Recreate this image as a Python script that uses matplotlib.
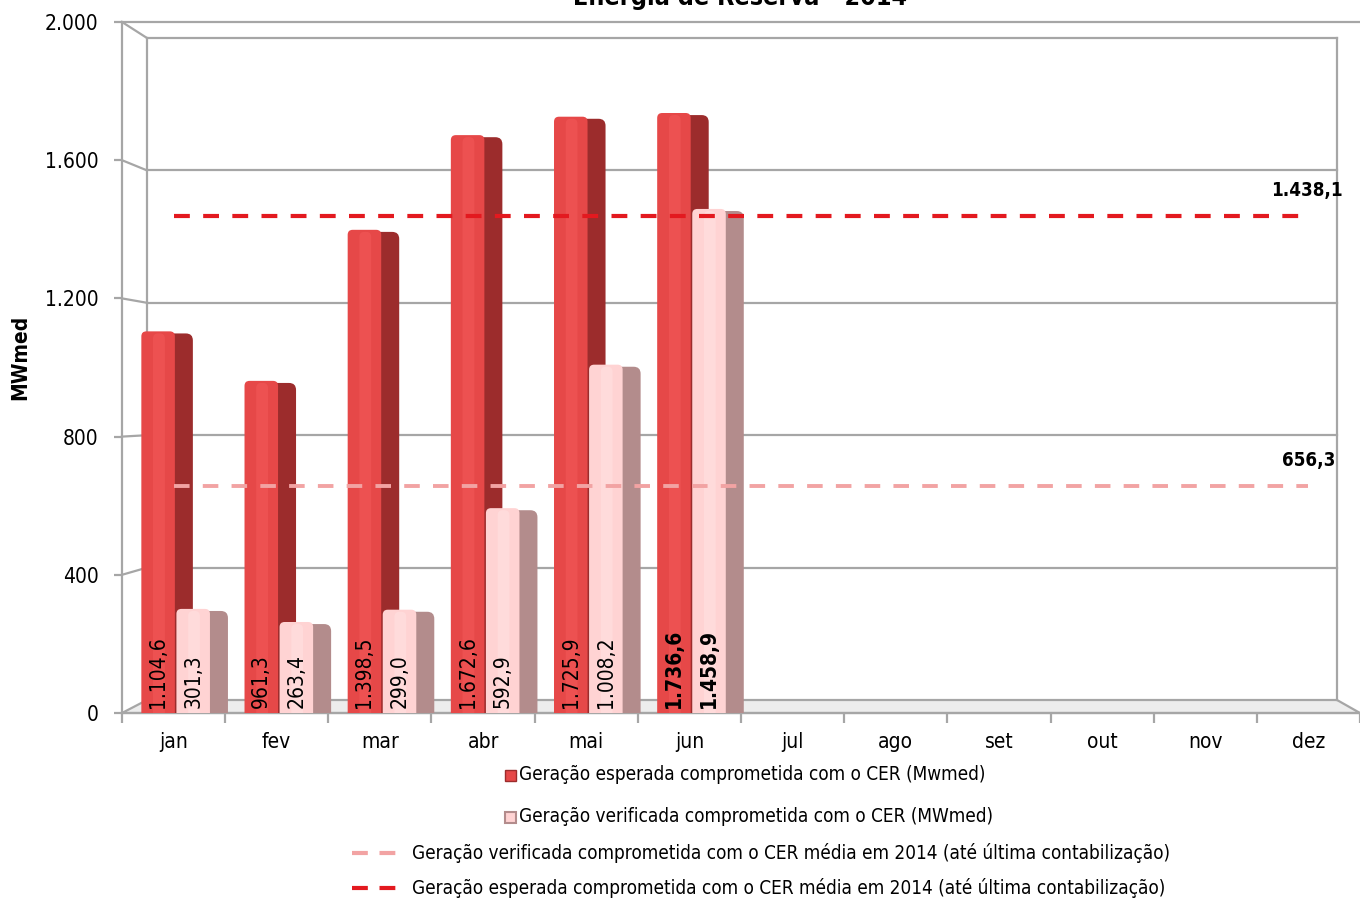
import matplotlib
matplotlib.use("Agg")
import matplotlib.pyplot as plt
from matplotlib.patches import FancyBboxPatch, Polygon, Rectangle
from matplotlib.lines import Line2D
import numpy as np

plt.rcParams['font.family'] = ['DejaVu Sans']
plt.rcParams['font.stretch'] = 'condensed'

# ---------------- data ----------------
months = ['jan', 'fev', 'mar', 'abr', 'mai', 'jun', 'jul', 'ago', 'set', 'out', 'nov', 'dez']
esperada = [1104.6, 961.3, 1398.5, 1672.6, 1725.9, 1736.6]
verificada = [301.3, 263.4, 299.0, 592.9, 1008.2, 1458.9]
media_esperada = 1438.1
media_verificada = 656.3
yticks = [0, 400, 800, 1200, 1600, 2000]
title = 'Energia de Reserva - 2014'
ylabel = 'MWmed'
legend_labels = [
    'Geração esperada comprometida com o CER (Mwmed)',
    'Geração verificada comprometida com o CER (MWmed)',
    'Geração verificada comprometida com o CER média em 2014 (até última contabilização)',
    'Geração esperada comprometida com o CER média em 2014 (até última contabilização)',
]

# ---------------- style ----------------
RED_FRONT = '#E64848'
RED_HI = '#F45A5A'
RED_SIDE = '#9C2C2C'
PINK_FRONT = '#FFD3D3'
PINK_HI = '#FFE2E2'
PINK_SIDE = '#B38C8C'
LINE_RED = '#E3191F'
LINE_PINK = '#F2A3A3'
GRID = '#A6A6A6'
FS = 15
FS_LEG = 13.6

W, H = 1360, 900
fig = plt.figure(figsize=(W / 100, H / 100), dpi=100)
L, R, T, B = 122, 1360, 22, 713          # front plot frame (pixels)
ax = fig.add_axes([L / W, 1 - B / H, (R - L) / W, (B - T) / H])
ax.set_xlim(-0.5, 11.5)
ax.set_ylim(0, 2000)
ax.patch.set_alpha(0)
for s in ax.spines.values():
    s.set_visible(False)

ppx = (R - L) / 12.0                     # pixels per category


def X(px):
    return (px - L) / ppx - 0.5


def Y(py):
    return (B - py) / (B - T) * 2000.0


# back wall geometry (pixels)
BX0, BX1, BYT, BYB = 147, 1337, 38, 700


def back_py(v):
    return BYB - v / 2000.0 * (BYB - BYT)


kw = dict(color=GRID, lw=1.6, clip_on=False, zorder=0.5)
floor = Polygon([(X(L), Y(B)), (X(BX0), Y(BYB)), (X(BX1), Y(BYB)), (X(R), Y(B))],
                closed=True, facecolor='#EDEDED', edgecolor=GRID, lw=1.6,
                clip_on=False, zorder=0.4)
ax.add_patch(floor)
for v in yticks[1:]:
    ax.plot([X(BX0), X(BX1)], [Y(back_py(v))] * 2, **kw)
    ax.plot([X(L), X(BX0)], [v, Y(back_py(v))], **kw)
ax.plot([X(BX0), X(BX0)], [Y(BYB), Y(BYT)], **kw)
ax.plot([X(BX1), X(BX1)], [Y(BYB), Y(BYT)], **kw)
ax.plot([X(L), X(L)], [0, 2000], **kw)
ax.plot([X(L), X(R)], [2000, 2000], **kw)
ax.plot([X(L), X(R)], [0, 0], **kw)

# ---------------- bars ----------------
w = 0.325
off_d, off_v = -0.15, 0.19
depth = 18 / ppx
ya = (2000.0 / (B - T)) * ppx
r = 5 / ppx


def bar3d(xc, h, front, hi, side, z):
    x0 = xc - w / 2
    sp = FancyBboxPatch((x0 + w * 0.3, -50), w * 0.7 + depth, h + 50 - 6,
                        boxstyle=f"round,pad=0,rounding_size={r * 1.4}",
                        mutation_aspect=ya, facecolor=side, edgecolor='none',
                        zorder=z)
    ax.add_patch(sp)
    fp = FancyBboxPatch((x0, -50), w, h + 50,
                        boxstyle=f"round,pad=0,rounding_size={r}",
                        mutation_aspect=ya, facecolor=front, edgecolor='none',
                        zorder=z + 0.1)
    ax.add_patch(fp)
    hp = FancyBboxPatch((x0 + w * 0.35, -50), w * 0.35, h + 50 - 6,
                        boxstyle=f"round,pad=0,rounding_size={r}",
                        mutation_aspect=ya, facecolor=hi, edgecolor='none',
                        alpha=0.55, zorder=z + 0.15)
    ax.add_patch(hp)


def br(v):
    s = f"{v:,.1f}"
    return s.replace(',', 'X').replace('.', ',').replace('X', '.')


n = len(esperada)
for i in range(n):
    bar3d(i + off_d, esperada[i], RED_FRONT, RED_HI, RED_SIDE, 2 + i)
    bar3d(i + off_v, verificada[i], PINK_FRONT, PINK_HI, PINK_SIDE, 2.5 + i)
    bold = 'bold' if i == n - 1 else 'normal'
    ax.text(i + off_d, 15, br(esperada[i]), rotation=90, ha='center', va='bottom',
            fontsize=FS, fontweight=bold, zorder=20)
    ax.text(i + off_v, 15, br(verificada[i]), rotation=90, ha='center', va='bottom',
            fontsize=FS, fontweight=bold, zorder=20)

# ---------------- average lines ----------------
xs = [0, len(months) - 1]
ax.plot(xs, [media_verificada] * 2, color=LINE_PINK, lw=2.8, dashes=(4.0, 3.4),
        zorder=15, clip_on=False)
ax.plot(xs, [media_esperada] * 2, color=LINE_RED, lw=3.0, dashes=(3.8, 3.2),
        zorder=15, clip_on=False)
ax.text(X(1343), media_esperada + 75, br(media_esperada), ha='right', va='center',
        fontsize=13.5, fontweight='bold', zorder=20)
ax.text(X(1335), media_verificada + 75, br(media_verificada), ha='right', va='center',
        fontsize=13.5, fontweight='bold', zorder=20)

# ---------------- axes ticks ----------------
ax.set_yticks(yticks)
ax.set_yticklabels([f"{v:,}".replace(',', '.') for v in yticks])
ax.tick_params(axis='y', length=6, width=1.6, color=GRID, pad=11, labelsize=FS)
ax.set_xticks(range(len(months)))
ax.set_xticklabels(months)
ax.tick_params(axis='x', length=0, pad=14, labelsize=FS)
ax.set_xticks(np.arange(-0.5, len(months), 1.0), minor=True)
ax.tick_params(axis='x', which='minor', length=7, width=1.6, color=GRID)

fig.text(740 / W, 1 - 5 / H, title, ha='center', va='baseline', fontsize=18,
         fontweight='bold')
fig.text(20 / W, 1 - 357 / H, ylabel, rotation=90, ha='center', va='center',
         fontsize=FS, fontweight='bold')


# ---------------- legend (manual, Excel-like centered rows) ----------------
def fx(px):
    return px / W


def fy(py):
    return 1 - py / H


fig.patches.append(Rectangle((fx(505), fy(781)), 11 / W, 11 / H, transform=fig.transFigure,
                             facecolor=RED_FRONT, edgecolor=RED_SIDE, lw=1))
fig.patches.append(Rectangle((fx(505), fy(823)), 11 / W, 11 / H, transform=fig.transFigure,
                             facecolor=PINK_FRONT, edgecolor=PINK_SIDE, lw=1.5))
fig.text(fx(519), fy(775), legend_labels[0], ha='left', va='center', fontsize=FS_LEG)
fig.text(fx(519), fy(817), legend_labels[1], ha='left', va='center', fontsize=FS_LEG)
fig.lines.append(Line2D([fx(352), fx(396)], [fy(853)] * 2, transform=fig.transFigure,
                        color=LINE_PINK, lw=3, dashes=(3.8, 2.8)))
fig.lines.append(Line2D([fx(352), fx(396)], [fy(888)] * 2, transform=fig.transFigure,
                        color=LINE_RED, lw=3, dashes=(3.8, 2.8)))
fig.text(fx(412), fy(853), legend_labels[2], ha='left', va='center', fontsize=FS_LEG)
fig.text(fx(412), fy(888), legend_labels[3], ha='left', va='center', fontsize=FS_LEG)

fig.savefig('out.png', dpi=100)
